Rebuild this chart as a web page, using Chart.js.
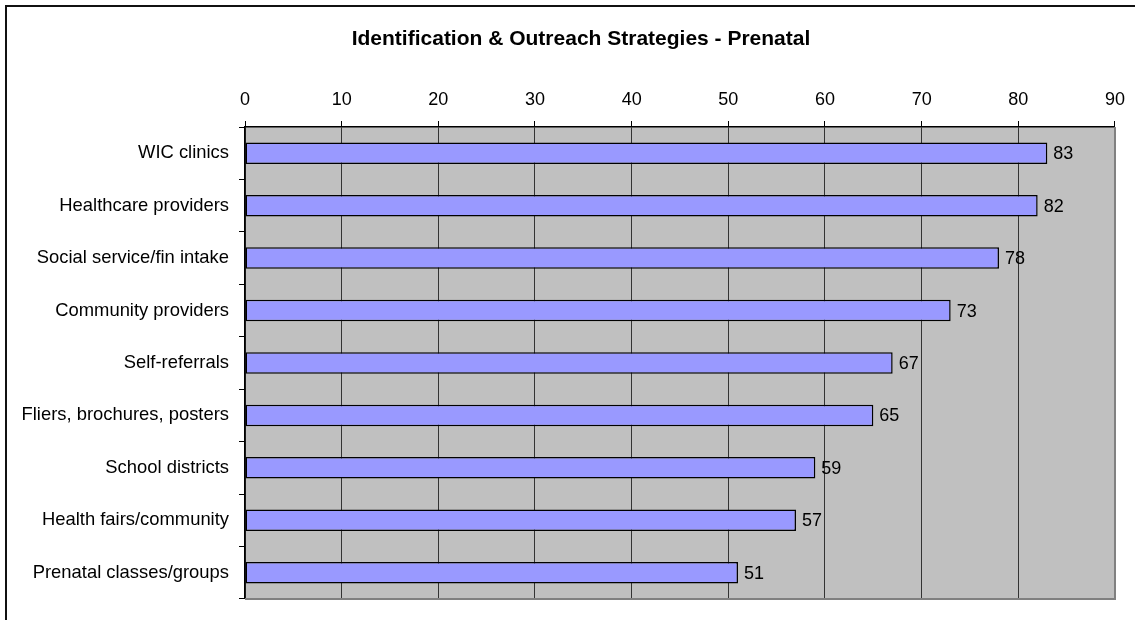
<!DOCTYPE html>
<html>
<head>
<meta charset="utf-8">
<script src="https://cdn.jsdelivr.net/npm/chart.js@4"></script>
<style>
  html, body { margin: 0; padding: 0; background: #fff; }
  #wrap { position: relative; width: 1135px; height: 620px; overflow: hidden; }
  #frame { position: absolute; left: 5px; top: 5px; width: 1200px; height: 700px;
           border-left: 2px solid #111; border-top: 2px solid #111; box-sizing: border-box; pointer-events: none; }
  canvas { position: absolute; left: 0; top: 0; }
</style>
</head>
<body>
<div id="wrap">
  <canvas id="chart" width="1135" height="620"></canvas>
  <div id="frame"></div>
</div>
<script>
// Strategy names (top to bottom) and the share of programs using each
const strategies = [
  'WIC clinics',
  'Healthcare providers',
  'Social service/fin intake',
  'Community providers',
  'Self-referrals',
  'Fliers, brochures, posters',
  'School districts',
  'Health fairs/community',
  'Prenatal classes/groups'
];
const percentages = [83, 82, 78, 73, 67, 65, 59, 57, 51];
const axisMin = 0;
const axisMax = 90;
const axisStep = 10;
const chartTitle = 'Identification & Outreach Strategies - Prenatal';

const FONT = 'Arial, "Liberation Sans", sans-serif';

// Grey plot background with a lighter-grey frame on the bottom and right
const plotBackground = {
  id: 'plotBackground',
  beforeDraw(chart) {
    const { ctx, chartArea: a } = chart;
    ctx.save();
    ctx.fillStyle = '#C0C0C0';
    ctx.fillRect(a.left, a.top, a.right - a.left, a.bottom - a.top);
    ctx.restore();
  },
  afterDraw(chart) {
    const { ctx, chartArea: a } = chart;
    ctx.save();
    ctx.strokeStyle = '#808080';
    ctx.lineWidth = 2;
    ctx.beginPath();
    ctx.moveTo(a.left, a.bottom);
    ctx.lineTo(a.right, a.bottom);
    ctx.lineTo(a.right, a.top);
    ctx.stroke();
    ctx.restore();
  }
};

// Value printed just past the end of each bar
const barValues = {
  id: 'barValues',
  afterDatasetsDraw(chart) {
    const { ctx } = chart;
    const meta = chart.getDatasetMeta(0);
    const data = chart.data.datasets[0].data;
    ctx.save();
    ctx.font = '18px ' + FONT;
    ctx.fillStyle = '#000';
    ctx.textAlign = 'left';
    ctx.textBaseline = 'middle';
    meta.data.forEach((bar, i) => {
      ctx.fillText(String(data[i]), bar.x + 6, bar.y + 1);
    });
    ctx.restore();
  }
};

// Bold heading above the axis
const heading = {
  id: 'heading',
  afterDraw(chart) {
    const { ctx } = chart;
    ctx.save();
    ctx.font = 'bold 21px ' + FONT;
    ctx.fillStyle = '#000';
    ctx.textAlign = 'center';
    ctx.textBaseline = 'middle';
    ctx.fillText(chartTitle, 581, 39);
    ctx.restore();
  }
};

new Chart(document.getElementById('chart'), {
  type: 'bar',
  data: {
    labels: strategies,
    datasets: [{
      data: percentages,
      backgroundColor: '#9999FF',
      borderColor: '#000',
      borderWidth: 1.5,
      borderSkipped: false,
      categoryPercentage: 1.0,
      barPercentage: 0.41
    }]
  },
  options: {
    indexAxis: 'y',
    responsive: false,
    animation: false,
    events: [],
    layout: { padding: { left: 0, right: 20, top: 0, bottom: 11 } },
    plugins: {
      legend: { display: false },
      title: { display: false },
      tooltip: { enabled: false }
    },
    scales: {
      x: {
        position: 'top',
        min: axisMin,
        max: axisMax,
        afterFit(scale) { scale.height = 127; },
        ticks: {
          stepSize: axisStep,
          padding: 10,
          color: '#000',
          font: { family: FONT, size: 18 }
        },
        grid: {
          color: ctx => (ctx.tick && ctx.tick.value === axisMax) ? '#808080' : '#333',
          tickColor: '#000',
          lineWidth: 1,
          tickLength: 6,
          drawOnChartArea: true
        },
        border: { color: '#000', width: 1.5 }
      },
      y: {
        afterFit(scale) { scale.width = 245; },
        ticks: {
          padding: 10,
          color: '#000',
          font: { family: FONT, size: 18.4 }
        },
        grid: {
          offset: true,
          drawOnChartArea: false,
          tickColor: '#000',
          tickLength: 6
        },
        border: { color: '#000', width: 1.5 }
      }
    }
  },
  plugins: [plotBackground, barValues, heading]
});
</script>
</body>
</html>
